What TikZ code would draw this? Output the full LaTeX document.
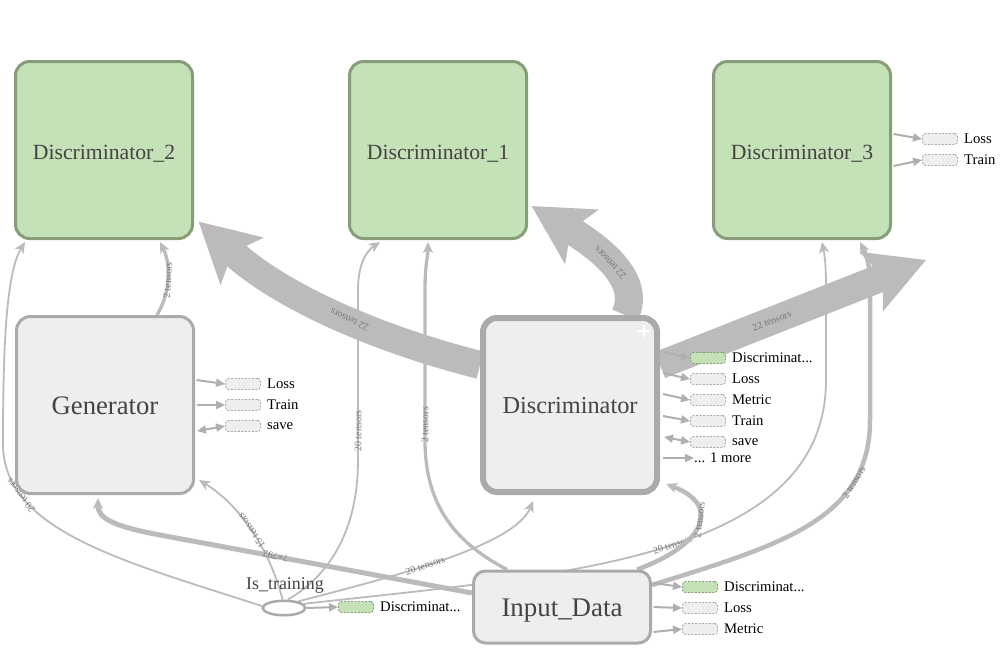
\documentclass[tikz,border=0pt]{standalone}
\usepackage{fontspec}
\setmainfont{Liberation Serif}
\usetikzlibrary{arrows.meta,shapes.geometric}
\definecolor{gfill}{HTML}{C5E1B7}
\definecolor{gdraw}{HTML}{879C79}
\definecolor{nfill}{HTML}{EEEEEE}
\definecolor{ndraw}{HTML}{AAAAAA}
\definecolor{edgec}{HTML}{BBBBBB}
\definecolor{auxc}{HTML}{AFAFAF}
\definecolor{titlec}{HTML}{444444}
\definecolor{lblc}{HTML}{777777}
\pgfdeclarelayer{edges}
\pgfsetlayers{edges,main}
\begin{document}
\begin{tikzpicture}[x=1pt,y=-1pt,
  gbox/.style={draw=gdraw, fill=gfill, line width=3pt, rounded corners=14pt,
    minimum width=177pt, minimum height=177pt, inner sep=0pt, text=titlec,
    text height=18pt, text depth=0pt,
    font=\fontsize{21.7}{26}\selectfont},
  nbox/.style={draw=ndraw, fill=nfill, line width=3pt, rounded corners=14pt,
    inner sep=0pt, text=titlec, text depth=0pt},
  thinedge/.style={draw=edgec, line width=1.8pt, -{Stealth[length=11pt,width=10pt,inset=3pt]}},
  midedge/.style={thinedge, line width=3.3pt},
  fatedge/.style={thinedge, line width=4.5pt},
  band/.style={draw=edgec, line width=28pt, -{Stealth[length=58pt,width=62pt,inset=12pt]}},
  elabel/.style={font=\fontsize{10}{12}\selectfont, text=lblc, sloped, allow upside down, inner sep=1pt},
  aux/.style={draw=ndraw, fill=nfill, dash pattern=on 2pt off 1.5pt, rounded corners=3pt,
    minimum width=35pt, minimum height=11pt, inner sep=0pt, line width=0.9pt},
  auxg/.style={aux, fill=gfill, draw=gdraw},
  auxlbl/.style={font=\fontsize{14.7}{17}\selectfont, inner sep=0pt, text=black},
  auxedge/.style={draw=auxc, line width=2pt, -{Triangle[length=9pt,width=8pt]}},
  auxboth/.style={draw=auxc, line width=2pt, {Triangle[length=9pt,width=8pt]}-{Triangle[length=9pt,width=8pt]}}
]
\useasboundingbox (0,0) rectangle (1000,653);

% main nodes
\node[gbox] (d2) at (104,150) {Discriminator\_2};
\node[gbox] (d1) at (438,150) {Discriminator\_1};
\node[gbox] (d3) at (802,150) {Discriminator\_3};
\node[nbox, minimum width=177pt, minimum height=177pt, text height=18pt, font=\fontsize{26.7}{30}\selectfont] (gen) at (105,405) {Generator};
\node[nbox, line width=6pt, minimum width=174pt, minimum height=174pt, text height=16.5pt, font=\fontsize{24.3}{28}\selectfont] (disc) at (570,405) {Discriminator};
\node[nbox, rounded corners=12pt, minimum width=177pt, minimum height=72pt, text height=19.5pt, font=\fontsize{26.9}{30}\selectfont] (inp) at (562,607) {Input\_Data};
\node[ellipse, draw=ndraw, fill=white, line width=2.5pt, minimum width=42.5pt, minimum height=14.5pt, inner sep=0pt] (isT) at (284,608) {};
\node[font=\fontsize{17.9}{21}\selectfont, text=titlec, inner sep=0pt] (isTl) at (285,585) {Is\_training};
\coordinate (offr) at (926,260);

% plus sign
\draw[white, line width=2.5pt] ([xshift=-22pt,yshift=-16pt]disc.north east) -- ([xshift=-10pt,yshift=-16pt]disc.north east);
\draw[white, line width=2.5pt] ([xshift=-16pt,yshift=-10pt]disc.north east) -- ([xshift=-16pt,yshift=-22pt]disc.north east);

% aux nodes
\node[aux, label={[auxlbl, label distance=6pt]right:Loss}] (gL) at (243,384) {};
\node[aux, label={[auxlbl, label distance=6pt]right:Train}] (gT) at (243,405) {};
\node[aux, label={[auxlbl, label distance=6pt]right:save}] (gS) at (243,426) {};

\node[auxg, label={[auxlbl, label distance=6pt]right:Discriminat...}] (dD) at (708,358) {};
\node[aux, label={[auxlbl, label distance=6pt]right:Loss}] (dL) at (708,379) {};
\node[aux, label={[auxlbl, label distance=6pt]right:Metric}] (dMe) at (708,400) {};
\node[aux, label={[auxlbl, label distance=6pt]right:Train}] (dT) at (708,421) {};
\node[aux, label={[auxlbl, label distance=6pt]right:save}] (dS) at (708,442) {};
\node[auxlbl, anchor=west] (dMore) at (694,458) {... 1 more};

\node[aux, label={[auxlbl, label distance=6pt]right:Loss}] (tL) at (940,139) {};
\node[aux, label={[auxlbl, label distance=6pt]right:Train}] (tT) at (940,160) {};

\node[auxg, label={[auxlbl, label distance=6pt]right:Discriminat...}] (iD) at (700,587) {};
\node[aux, label={[auxlbl, label distance=6pt]right:Loss}] (iL) at (700,608) {};
\node[aux, label={[auxlbl, label distance=6pt]right:Metric}] (iM) at (700,629) {};

\node[auxg, label={[auxlbl, label distance=6pt]right:Discriminat...}] (sD) at (356,607) {};

\begin{pgfonlayer}{edges}
% thick bands from Discriminator
\draw[band] ([yshift=40pt]disc.west) .. controls (400,345) and (290,305) .. ([xshift=4.5pt,yshift=18.5pt]d2.south east)
  node[elabel, pos=.48] {22 tensors};
\draw[band] ([xshift=55pt]disc.north) .. controls (642,280) and (600,248) .. ([xshift=3.5pt,yshift=34pt]d1.south east)
  node[elabel, pos=.5] {22 tensors};
\draw[band] ([yshift=40pt]disc.east) -- (offr) node[elabel, pos=.42] {22 tensors};

% Generator -> Discriminator_2
\draw[midedge] ([xshift=52pt]gen.north) .. controls (172,290) and (170,262) .. ([xshift=56pt,yshift=-2pt]d2.south)
  node[elabel, pos=.45] {2 tensors};

% Is_training edges
\draw[thinedge] (isT.175) .. controls (120,560) and (0,530) .. (3,440) node[elabel, pos=.76] {20 tensors}
  .. controls (3,330) and (8,270) .. ([xshift=11pt,yshift=-2pt]d2.south west);
\draw[thinedge] (isT.100) .. controls (270,550) and (240,505) .. ([xshift=4pt,yshift=15pt]gen.south east)
  node[elabel, pos=.5] {15 tensors};
\draw[thinedge] (isT.65) .. controls (330,575) and (358,530) .. (358,460) -- (358,290) node[elabel, pos=.17] {20 tensors}
  .. controls (358,262) and (368,250) .. ([xshift=-58pt,yshift=-2pt]d1.south);
\draw[thinedge] (isT.25) .. controls (400,575) and (515,545) .. ([xshift=-37pt,yshift=-6pt]disc.south)
  node[elabel, pos=.42] {20 tensors};
\draw[thinedge] (isT.12) .. controls (560,575) and (826,560) .. (826,380) node[elabel, pos=.52] {20 tensors}
  -- (826,285) .. controls (826,262) and (824,252) .. ([xshift=20pt,yshift=-2pt]d3.south);

% Input_Data edges
\draw[midedge] ([xshift=-55pt]inp.north) .. controls (450,540) and (425,500) .. (425,440) -- (425,290)
  node[elabel, pos=.1] {2 tensors}
  .. controls (425,265) and (428,255) .. ([xshift=-10pt,yshift=-2pt]d1.south);
\draw[fatedge] ([xshift=75pt]inp.north) .. controls (705,545) and (722,505) .. ([xshift=6pt,yshift=11pt]disc.south east)
  node[elabel, pos=.56] {2 tensors};
\draw[fatedge] ([yshift=22pt]inp.east) .. controls (780,545) and (870,520) .. (870,420) node[elabel, pos=.75] {2 tensors}
  -- (870,285) .. controls (870,262) and (865,252) .. ([xshift=58pt,yshift=-2pt]d3.south);
\draw[fatedge, line width=5pt] ([yshift=14pt]inp.west) -- (160,535) node[elabel, pos=.63] {?×792}
  .. controls (112,526) and (98,518) .. ([xshift=-7pt,yshift=-3pt]gen.south);

% aux edges
\draw[auxedge] ([xshift=1.5pt,yshift=25pt]gen.east) -- (gL.west);
\draw[auxedge] ([xshift=1.5pt]gen.east) -- (gT.west);
\draw[auxboth] ([xshift=2pt,yshift=-26pt]gen.east) -- (gS.west);

\draw[auxedge] ([xshift=3pt,yshift=53pt]disc.east) -- (dD.west);
\draw[auxedge] ([xshift=3pt,yshift=32pt]disc.east) -- (dL.west);
\draw[auxedge] ([xshift=3pt,yshift=11pt]disc.east) -- (dMe.west);
\draw[auxedge] ([xshift=3pt,yshift=-11pt]disc.east) -- (dT.west);
\draw[auxboth] ([xshift=4pt,yshift=-32pt]disc.east) -- (dS.west);
\draw[auxedge] ([xshift=3pt,yshift=-53pt]disc.east) -- (dMore.west);

\draw[auxedge] ([xshift=1.5pt,yshift=16pt]d3.east) -- (tL.west);
\draw[auxedge] ([xshift=1.5pt,yshift=-16pt]d3.east) -- (tT.west);

\draw[auxedge] ([xshift=1.5pt,yshift=24pt]inp.east) -- (iD.west);
\draw[auxedge] ([xshift=1.5pt]inp.east) -- (iL.west);
\draw[auxedge] ([xshift=1.5pt,yshift=-25pt]inp.east) -- (iM.west);

\draw[auxedge] (isT.east) -- (sD.west);
\end{pgfonlayer}
\end{tikzpicture}
\end{document}
